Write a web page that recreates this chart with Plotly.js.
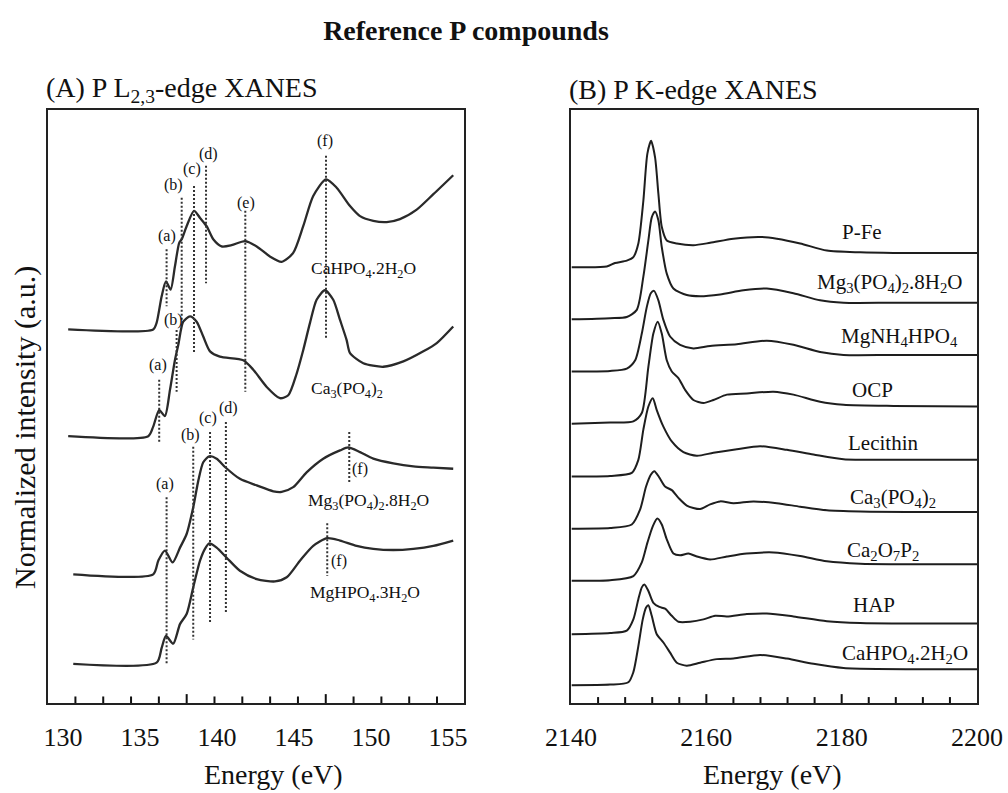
<!DOCTYPE html>
<html>
<head>
<meta charset="utf-8">
<script src="https://cdn.plot.ly/plotly-3.0.1.min.js"></script>
<style>html,body{margin:0;padding:0;background:#fff}</style>
</head>
<body>
<div id="chart" style="width:1008px;height:793px"></div>
<script>
// ---------- (A) P L2,3-edge XANES : energy (eV) and stacked normalized intensity ----------
const lE_CaHPO4 = [130.34, 135.86, 136.08, 136.41, 136.69, 136.99, 137.27, 137.55, 137.71, 138.03, 138.51, 138.9, 139.33, 139.76, 140.3, 140.95, 141.82, 142.58, 143.44, 144.2, 144.95, 145.6, 146.25, 147.08, 147.77, 148.64, 149.29, 150.15, 151.02, 151.88, 152.97, 154.05, 155.34];
const lI_CaHPO4 = [6.30, 6.30, 6.41, 6.86, 7.11, 6.97, 7.36, 7.76, 7.82, 8.04, 8.30, 8.18, 8.04, 7.82, 7.70, 7.72, 7.79, 7.70, 7.53, 7.44, 7.59, 8.04, 8.55, 8.83, 8.69, 8.38, 8.21, 8.13, 8.11, 8.16, 8.32, 8.58, 8.90];

const lE_Ca3PO4 = [130.34, 135.54, 135.86, 136.25, 136.62, 136.95, 137.27, 137.49, 137.81, 138.25, 138.68, 139.11, 139.55, 140.19, 141.71, 142.36, 143.23, 144.09, 144.63, 145.18, 145.6, 146.04, 146.47, 147.01, 147.55, 147.99, 148.42, 148.64, 149.5, 150.8, 152.1, 153.4, 154.27, 155.34];
const lI_Ca3PO4 = [4.50, 4.50, 4.66, 4.94, 4.84, 5.28, 5.78, 6.04, 6.43, 6.52, 6.43, 6.18, 5.93, 5.84, 5.78, 5.62, 5.33, 5.14, 5.19, 5.56, 5.95, 6.41, 6.80, 6.96, 6.80, 6.46, 6.12, 5.90, 5.73, 5.67, 5.76, 5.93, 6.07, 6.35];

const lE_Mg3PO4 = [130.67, 135.86, 136.19, 136.62, 137.12, 137.6, 138.03, 138.46, 138.79, 139.11, 139.5, 139.98, 140.52, 141.49, 142.58, 143.66, 144.2, 144.95, 145.82, 146.9, 147.99, 148.53, 149.29, 150.15, 151.45, 152.75, 154.05, 155.34];
const lI_Mg3PO4 = [2.17, 2.17, 2.40, 2.57, 2.37, 2.62, 2.85, 3.30, 3.75, 4.06, 4.16, 4.12, 3.98, 3.78, 3.67, 3.57, 3.56, 3.64, 3.89, 4.12, 4.26, 4.31, 4.23, 4.12, 4.04, 3.99, 3.97, 3.95];

const lE_MgHPO4 = [130.67, 136.08, 136.41, 136.69, 137.16, 137.6, 138.03, 138.46, 138.9, 139.22, 139.5, 139.98, 140.63, 141.49, 142.58, 143.77, 144.53, 145.39, 146.25, 147.16, 147.99, 149.07, 150.15, 151.45, 152.75, 154.05, 155.34];
const lI_MgHPO4 = [0.66, 0.68, 0.93, 1.13, 1.00, 1.33, 1.50, 1.95, 2.40, 2.60, 2.69, 2.62, 2.45, 2.23, 2.09, 2.05, 2.12, 2.40, 2.65, 2.78, 2.74, 2.65, 2.60, 2.58, 2.60, 2.65, 2.74];

const lNames = ['CaHPO<sub>4</sub>.2H<sub>2</sub>O', 'Ca<sub>3</sub>(PO<sub>4</sub>)<sub>2</sub>',
                'Mg<sub>3</sub>(PO<sub>4</sub>)<sub>2</sub>.8H<sub>2</sub>O', 'MgHPO<sub>4</sub>.3H<sub>2</sub>O'];
const lTicks = [130, 135, 140, 145, 150, 155];

// assigned spectral features (a)-(f): energy and the span of the guide line
const peakLetter = ['a', 'b', 'c', 'd', 'e', 'f', 'a', 'b', 'b', 'c', 'd', 'f', 'a', 'f'];
const peakE      = [136.73, 137.71, 138.51, 139.29, 141.84, 147.08, 136.25, 137.38, 138.46, 139.55, 140.58, 148.59, 136.73, 147.16];
const peakTop    = [7.65, 8.52, 8.72, 9.06, 8.30, 9.23, 5.45, 6.29, 4.32, 4.57, 4.74, 4.57, 3.47, 3.03];
const peakBottom = [6.69, 6.43, 5.90, 7.08, 5.25, 6.15, 4.40, 5.25, 1.07, 1.35, 1.50, 3.70, 0.65, 2.14];

// ---------- (B) P K-edge XANES ----------
const kE_PFe = [2140.1, 2145.28, 2146.5, 2148.24, 2149.21, 2149.95, 2150.69, 2151.28, 2151.83, 2152.42, 2152.91, 2153.41, 2154.15, 2155.63, 2158.09, 2160.56, 2164.0, 2167.95, 2170.42, 2173.87, 2177.81, 2182.74, 2187.66, 2200];
const kI_PFe = [7.35, 7.36, 7.42, 7.46, 7.52, 7.75, 8.47, 9.26, 9.48, 9.20, 8.59, 8.03, 7.80, 7.75, 7.72, 7.76, 7.83, 7.86, 7.83, 7.75, 7.63, 7.60, 7.59, 7.59];

const kE_Mg3PO4 = [2140.1, 2145.77, 2148.24, 2149.72, 2150.69, 2151.43, 2151.93, 2152.42, 2152.91, 2153.41, 2154.15, 2155.13, 2157.11, 2159.08, 2162.04, 2165.48, 2168.94, 2172.87, 2176.81, 2180.27, 2187.66, 2200];
const kI_Mg3PO4 = [6.47, 6.49, 6.51, 6.63, 7.19, 7.80, 8.19, 8.29, 8.14, 7.69, 7.24, 6.99, 6.88, 6.86, 6.89, 6.96, 6.99, 6.91, 6.79, 6.75, 6.75, 6.75];

const kE_MgNH4 = [2140.1, 2145.77, 2148.24, 2149.48, 2150.46, 2151.2, 2151.79, 2152.27, 2152.91, 2153.65, 2154.64, 2156.12, 2158.09, 2160.56, 2164.5, 2168.94, 2172.87, 2176.81, 2180.27, 2187.66, 2200];
const kI_MgNH4 = [5.59, 5.60, 5.64, 5.78, 6.23, 6.68, 6.91, 6.95, 6.79, 6.46, 6.18, 6.04, 5.98, 6.02, 6.05, 6.11, 6.04, 5.92, 5.87, 5.87, 5.87];

const kE_OCP = [2140.1, 2145.77, 2149.21, 2150.46, 2151.43, 2152.17, 2152.82, 2153.41, 2154.15, 2154.89, 2155.87, 2156.86, 2158.09, 2159.57, 2161.04, 2163.03, 2165.98, 2169.92, 2172.87, 2176.81, 2180.27, 2187.66, 2200];
const kI_OCP = [4.71, 4.73, 4.75, 4.89, 5.67, 6.23, 6.43, 6.23, 5.78, 5.59, 5.48, 5.28, 5.11, 5.06, 5.11, 5.20, 5.22, 5.25, 5.20, 5.08, 5.03, 5.01, 5.00];

const kE_Lecithin = [2140.1, 2145.77, 2148.98, 2149.95, 2150.69, 2151.43, 2152.08, 2152.67, 2153.65, 2154.89, 2156.61, 2158.59, 2161.04, 2164.5, 2167.95, 2171.9, 2175.83, 2180.27, 2187.66, 2200];
const kI_Lecithin = [3.82, 3.83, 3.88, 4.10, 4.61, 5.00, 5.14, 4.94, 4.66, 4.41, 4.23, 4.17, 4.22, 4.28, 4.33, 4.27, 4.19, 4.11, 4.10, 4.10];

const kE_Ca3PO4 = [2140.1, 2145.77, 2148.98, 2150.2, 2151.09, 2151.79, 2152.32, 2153.06, 2153.9, 2154.89, 2155.87, 2157.11, 2159.08, 2160.56, 2162.04, 2164.0, 2166.96, 2170.42, 2173.87, 2177.81, 2182.74, 2200];
const kI_Ca3PO4 = [2.94, 2.95, 3.01, 3.26, 3.65, 3.85, 3.91, 3.80, 3.65, 3.59, 3.46, 3.33, 3.27, 3.35, 3.40, 3.37, 3.40, 3.37, 3.31, 3.25, 3.23, 3.22];

const kE_Ca2O7P2 = [2140.1, 2145.77, 2149.21, 2150.46, 2151.28, 2152.08, 2152.76, 2153.41, 2154.15, 2155.13, 2156.12, 2157.35, 2158.59, 2160.56, 2163.03, 2165.98, 2169.92, 2173.87, 2177.81, 2182.74, 2200];
const kI_Ca2O7P2 = [2.06, 2.07, 2.14, 2.37, 2.70, 2.98, 3.11, 3.01, 2.76, 2.52, 2.49, 2.52, 2.47, 2.42, 2.47, 2.52, 2.54, 2.48, 2.39, 2.35, 2.34];

const kE_HAP = [2140.1, 2145.77, 2148.24, 2149.21, 2149.95, 2150.46, 2150.84, 2151.43, 2152.17, 2153.06, 2153.9, 2154.89, 2155.87, 2157.6, 2159.57, 2161.3, 2163.03, 2165.98, 2168.94, 2172.87, 2177.81, 2182.74, 2200];
const kI_HAP = [1.16, 1.18, 1.22, 1.41, 1.75, 1.95, 2.00, 1.89, 1.69, 1.62, 1.59, 1.47, 1.37, 1.37, 1.41, 1.47, 1.46, 1.50, 1.51, 1.46, 1.38, 1.35, 1.34];

const kE_CaHPO4 = [2140.1, 2145.77, 2148.47, 2149.21, 2149.95, 2150.6, 2151.09, 2151.43, 2151.93, 2152.67, 2153.65, 2154.64, 2155.63, 2157.11, 2159.08, 2161.55, 2164.0, 2167.95, 2171.9, 2175.83, 2180.27, 2200];
const kI_CaHPO4 = [0.30, 0.31, 0.35, 0.52, 0.96, 1.41, 1.61, 1.65, 1.47, 1.16, 1.02, 0.85, 0.68, 0.63, 0.68, 0.74, 0.75, 0.81, 0.75, 0.66, 0.59, 0.57];

const kNames = ['P-Fe', 'Mg<sub>3</sub>(PO<sub>4</sub>)<sub>2</sub>.8H<sub>2</sub>O', 'MgNH<sub>4</sub>HPO<sub>4</sub>', 'OCP', 'Lecithin',
                'Ca<sub>3</sub>(PO<sub>4</sub>)<sub>2</sub>', 'Ca<sub>2</sub>O<sub>7</sub>P<sub>2</sub>', 'HAP', 'CaHPO<sub>4</sub>.2H<sub>2</sub>O'];
const kTicks = [2140, 2160, 2180, 2200];

// ---------- drawing ----------
const FONT = '"Liberation Serif", "Times New Roman", Times, serif';
const INK = '#1e1e1e';

const lSeries = [[lE_CaHPO4, lI_CaHPO4], [lE_Ca3PO4, lI_Ca3PO4], [lE_Mg3PO4, lI_Mg3PO4], [lE_MgHPO4, lI_MgHPO4]];
const kSeries = [[kE_PFe, kI_PFe], [kE_Mg3PO4, kI_Mg3PO4], [kE_MgNH4, kI_MgNH4], [kE_OCP, kI_OCP], [kE_Lecithin, kI_Lecithin],
                 [kE_Ca3PO4, kI_Ca3PO4], [kE_Ca2O7P2, kI_Ca2O7P2], [kE_HAP, kI_HAP], [kE_CaHPO4, kI_CaHPO4]];

const traces = [];
lSeries.forEach(([e, i]) => traces.push({
  type: 'scatter', mode: 'lines', x: e, y: i, xaxis: 'x', yaxis: 'y',
  line: {color: '#2a2a2a', width: 2.3, shape: 'spline', smoothing: 0.7}
}));

// dotted guide lines for the features
const gx = [], gy = [];
peakE.forEach((e, n) => { gx.push(e, e, null); gy.push(peakTop[n], peakBottom[n], null); });
traces.push({
  type: 'scatter', mode: 'lines', x: gx, y: gy, xaxis: 'x', yaxis: 'y',
  line: {color: '#333', width: 2, dash: '2px,2px'}
});

kSeries.forEach(([e, i]) => traces.push({
  type: 'scatter', mode: 'lines', x: e, y: i, xaxis: 'x2', yaxis: 'y2',
  line: {color: INK, width: 2, shape: 'spline', smoothing: 0.7}
}));

// inside tick marks along both energy axes (short every step, long every fifth step)
const shapes = [];
function tickMarks(start, step, end, longEvery, shortLen, longLen, xa, ya) {
  for (let k = 0, v = start; v < end; k++, v = start + k * step) {
    const len = (k % 5 === longEvery) ? longLen : shortLen;
    shapes.push({type: 'line', xref: xa, yref: ya, x0: v, x1: v, y0: 0, y1: len, layer: 'above',
                 line: {color: '#111', width: 2}});
  }
}
tickMarks(130.81, 1.806, 156.0, 4, 0.11, 0.15, 'x', 'y');
tickMarks(2144, 4, 2199, 4, 0.10, 0.15, 'x2', 'y2');

const annotations = [];
const txt = (text, x, y, xref, yref, size, extra) => annotations.push(Object.assign({
  text, x, y, xref, yref, showarrow: false, xanchor: 'center', yanchor: 'middle',
  font: {size, family: FONT, color: '#111'}}, extra || {}));

// panel titles and axis titles
txt('(A) P L<sub>2,3</sub>-edge XANES', -0.004, 1.034, 'paper', 'paper', 28, {xanchor: 'left'});
txt('(B) P K-edge XANES', 0.5587, 1.034, 'paper', 'paper', 28, {xanchor: 'left'});
txt('Energy (eV)', 0.2422, -0.1214, 'paper', 'paper', 28);
txt('Energy (eV)', 0.7804, -0.1214, 'paper', 'paper', 28);
txt('Normalized intensity (a.u.)', -0.0248, 0.4654, 'paper', 'paper', 30, {textangle: -90});

// compound labels, panel (A)
const lLabelAt = [[149.5, 7.31], [148.42, 5.28], [149.82, 3.39], [149.61, 1.84]];
lNames.forEach((t, n) => txt(t, lLabelAt[n][0], lLabelAt[n][1], 'x', 'y', 17.5));

// feature letters, panel (A)
const peakLabelAt = [[136.73, 7.87], [137.16, 8.73], [138.36, 9.0], [139.44, 9.26], [141.88, 8.44], [147.01, 9.48],
                     [136.19, 5.70], [137.16, 6.46], [138.29, 4.52], [139.44, 4.80], [140.73, 4.97], [149.29, 3.95],
                     [136.62, 3.70], [147.94, 2.40]];
peakLetter.forEach((t, n) => txt('(' + t + ')', peakLabelAt[n][0], peakLabelAt[n][1], 'x', 'y', 16));

// compound labels, panel (B)
const kLabelAt = [[2182.95, 7.94], [2187.1, 7.09], [2188.6, 6.17], [2184.6, 5.28], [2186.1, 4.39],
                  [2187.6, 3.46], [2186.1, 2.56], [2184.8, 1.66], [2189.4, 0.82]];
kNames.forEach((t, n) => txt(t, kLabelAt[n][0], kLabelAt[n][1], 'x2', 'y2', 21));

const frame = {showline: true, mirror: true, linecolor: '#222', linewidth: 2, showgrid: false, zeroline: false, fixedrange: true};

const layout = {
  width: 1008, height: 793, showlegend: false, hovermode: false,
  margin: {l: 48, r: 31, t: 110, b: 90},
  font: {family: FONT, color: '#111', size: 16},
  title: {text: '<b>Reference P compounds</b>', xref: 'container', yref: 'container', x: 0.4623, y: 0.962,
          xanchor: 'center', yanchor: 'middle', font: {size: 28, family: FONT, color: '#111'}},
  xaxis: Object.assign({}, frame, {domain: [0, 0.4478], range: [129.03, 156.04], anchor: 'y',
    tickmode: 'array', tickvals: lTicks, ticks: '', ticklabelstandoff: 10,
    tickfont: {size: 26, family: FONT, color: '#111'}}),
  yaxis: Object.assign({}, frame, {domain: [0, 1], range: [0, 10], anchor: 'x', ticks: '', showticklabels: false}),
  xaxis2: Object.assign({}, frame, {domain: [0.563, 1], range: [2140, 2200], anchor: 'y2',
    tickmode: 'array', tickvals: kTicks, ticks: '', ticklabelstandoff: 10,
    tickfont: {size: 26, family: FONT, color: '#111'}}),
  yaxis2: Object.assign({}, frame, {domain: [0, 1], range: [0, 10], anchor: 'x2', ticks: '', showticklabels: false}),
  shapes: shapes,
  annotations: annotations
};

Plotly.newPlot('chart', traces, layout, {displayModeBar: false, staticPlot: true});
</script>
</body>
</html>
